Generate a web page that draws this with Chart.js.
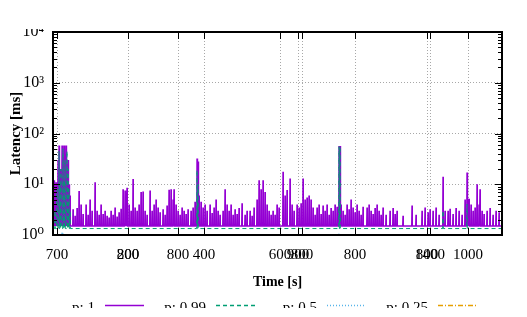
<!DOCTYPE html>
<html>
<head>
<meta charset="utf-8">
<script src="https://cdn.jsdelivr.net/npm/chart.js@4.4.1/dist/chart.umd.min.js"></script>
<style>
  html, body { margin: 0; padding: 0; background: #fff; }
</style>
</head>
<body>
<canvas id="latencyChart" width="527" height="317"></canvas>
<script>
// series look
const seriesLabels = ['p: 1', 'p: 0.99', 'p: 0.5', 'p: 0.25'];
const seriesColors = ['#9400d3', '#009e73', '#56b4e9', '#e69f00'];
const seriesDash = [[], [4, 3], [1, 2], [5, 2, 1, 2]];
const seriesWidth = [1.4, 1, 1, 1];

// baseline latency of each series [ms]
const baseLatency = [1.5, 1.34, 1.02, 0.8];

// spikes (time position, latency in ms)
const p1Time = [1, 2, 3, 4, 5, 6, 7, 8, 9, 10, 11, 12, 13, 14, 15, 16, 17,
  20, 22, 24, 26, 28, 30, 33, 35, 37, 39, 42, 44, 46, 48, 50, 52, 54, 56, 58, 60,
  62, 64, 66, 68, 70, 72, 73, 74, 76, 78, 80, 82, 84, 86, 88, 90, 92, 94, 97, 99,
  101, 103, 105, 107, 110, 112, 114, 116, 118, 120, 121, 123, 125, 127, 129, 131, 133, 135, 138, 140,
  142, 144, 145, 146, 148, 150, 152, 154, 157, 159, 161, 163, 165, 167, 170, 172, 174, 176, 178, 180,
  182, 184, 186, 189, 192, 194, 197, 199, 201, 204, 206, 208, 210, 212, 214, 216, 218, 220, 222, 224,
  226, 230, 232, 234, 237, 239, 241, 244, 246, 248, 250, 252, 254, 256, 258, 260, 262, 264, 266, 268,
  270, 272, 274, 276, 278, 280, 282, 284, 286, 287, 288, 290, 292, 294, 296, 298, 300, 302, 304, 306,
  308, 310, 314, 316, 318, 320, 322, 324, 326, 328, 330, 333, 337, 340, 342, 344, 350, 359, 363, 369,
  372, 375, 377, 380, 383, 386, 390, 392, 395, 397, 400, 403, 406, 409, 412, 414, 415, 416, 418, 420,
  422, 424, 426, 427, 429, 431, 434, 437, 440, 443, 446];
const p1Latency = [12, 8, 11, 5, 30, 58, 20, 8, 58, 15, 58, 40, 58, 25, 30, 10, 6,
  3.2, 2.4, 3.4, 7.4, 4, 2.6, 4, 2.5, 5, 3, 11, 3, 2.5, 4, 2.6, 3, 2.4, 2.2, 3, 2.5,
  3.5, 2.3, 2.8, 3.3, 8, 7.5, 5, 8.5, 4, 3, 12.7, 3.5, 3, 4, 7, 7.2, 3, 2.5, 7.5, 3,
  4, 5, 3.5, 2.8, 3.2, 2.5, 3.8, 7.8, 8, 5, 8, 4, 3, 2.5, 3.5, 3, 2.6, 3.2, 3, 3.5,
  4.5, 32, 28, 6, 4.5, 3.5, 4, 3, 4, 2.7, 3.5, 5, 3, 2.5, 3, 8, 4, 3, 4, 2.5,
  3.2, 2.6, 3.4, 4.2, 2.5, 3, 3, 2.4, 3.5, 5, 12, 8, 12, 7, 4, 3, 2.5, 3, 2.5, 4,
  3.5, 17.6, 6, 7.7, 13, 4, 3, 4, 3.5, 4.2, 13, 5, 5.5, 6, 5, 3.5, 2.5, 3.5, 4, 2.6,
  3.8, 3, 4, 2.5, 3.4, 3, 4, 3.6, 57, 57, 4, 3, 2.5, 4, 3.2, 5, 3.5, 2.8, 4, 3,
  2.5, 3.6, 3.5, 4, 3, 2.6, 3.4, 4, 3, 2.5, 3.5, 2.5, 3, 3.4, 2.6, 3, 2.4, 3.8, 2.5, 3,
  3.5, 2.8, 3.2, 3, 3.5, 2.5, 14, 3, 3, 3.3, 2.6, 3.4, 3, 2.5, 5, 17, 5, 5.2, 4, 3,
  3.5, 10, 4, 8, 3, 2.6, 3, 3.4, 2.5, 3, 2.8];

const p099Time = [2, 4, 6, 7, 8, 10, 11, 12, 14, 15, 16, 17, 144, 145, 286, 287, 390, 414];
const p099Latency = [3, 8, 45, 10, 20, 50, 12, 30, 45, 20, 8, 3, 19, 10, 55, 55, 3, 4];

const p05Time = [9, 10, 286];
const p05Latency = [1.15, 1.12, 1.1];

const p025Time = [];
const p025Latency = [];

// x axis: tick positions and their labels (several overlaid time axes)
const xTickPos = [4, 75, 75, 125, 151, 227, 245, 249, 302, 374, 377, 415];
const xTickLabels = ['700', '200', '800', '800', '400', '600', '900', '800', '800', '800', '1400', '1000'];
const yTickValues = [1, 10, 100, 1000, 10000];
const yTickLabels = ['10⁰', '10¹', '10²', '10³', '10⁴'];

const serif = '"Liberation Serif", "DejaVu Serif", serif';

function buildSeries(times, lats, base) {
    const pts = [{ x: 0, y: base }];
    times.forEach((t, i) => {
        pts.push({ x: t - 0.3, y: base }, { x: t, y: lats[i] }, { x: t + 0.3, y: base });
    });
    pts.push({ x: 449, y: base });
    return pts;
}

const allTimes = [p1Time, p099Time, p05Time, p025Time];
const allLats = [p1Latency, p099Latency, p05Latency, p025Latency];

const datasets = seriesLabels.map((label, i) => ({
    label: label,
    data: buildSeries(allTimes[i], allLats[i], baseLatency[i]),
    borderColor: seriesColors[i],
    borderDash: seriesDash[i],
    borderWidth: seriesWidth[i],
    pointRadius: 0,
    tension: 0,
    fill: false,
    order: 4 - i
}));

// frame, inward ticks, gnuplot-like legend
const gnuplotLook = {
    id: 'gnuplotLook',
    afterDraw(chart) {
        const { ctx, chartArea: a, scales: { x, y } } = chart;
        ctx.save();
        ctx.strokeStyle = '#000';
        ctx.lineWidth = 1;
        ctx.beginPath();
        for (let d = 0; d < 4; d++) {
            for (let m = 1; m < 10; m++) {
                const py = Math.round(y.getPixelForValue(m * Math.pow(10, d))) + 0.5;
                const len = m === 1 ? 7 : 4;
                ctx.moveTo(a.left, py); ctx.lineTo(a.left + len, py);
                ctx.moveTo(a.right, py); ctx.lineTo(a.right - len, py);
            }
        }
        xTickPos.forEach(v => {
            const px = Math.round(x.getPixelForValue(v)) + 0.5;
            ctx.moveTo(px, a.bottom); ctx.lineTo(px, a.bottom - 7);
            ctx.moveTo(px, a.top); ctx.lineTo(px, a.top + 7);
        });
        ctx.stroke();

        ctx.lineWidth = 2;
        ctx.strokeRect(a.left, a.top, a.right - a.left, a.bottom - a.top);

        // legend
        ctx.font = '15px ' + serif;
        ctx.fillStyle = '#000';
        ctx.textAlign = 'right';
        ctx.textBaseline = 'alphabetic';
        seriesLabels.forEach((label, i) => {
            const lineEnd = 144 + 111 * i;
            const lineStart = lineEnd - 39;
            ctx.fillText(label, lineStart - 10, 312);
            ctx.beginPath();
            ctx.strokeStyle = seriesColors[i];
            ctx.lineWidth = 1.5;
            ctx.setLineDash(seriesDash[i]);
            ctx.moveTo(lineStart, 305.5);
            ctx.lineTo(lineEnd, 305.5);
            ctx.stroke();
        });
        ctx.setLineDash([]);

        // the picture is cut above and below
        ctx.fillStyle = '#fff';
        ctx.fillRect(0, 0, chart.width, 29);
        ctx.fillRect(0, 308, chart.width, chart.height - 308);
        ctx.restore();
    }
};

new Chart(document.getElementById('latencyChart').getContext('2d'), {
    type: 'line',
    data: { datasets: datasets },
    options: {
        responsive: false,
        animation: false,
        layout: { padding: { left: 0, right: 25, top: 32, bottom: 0 } },
        plugins: {
            legend: { display: false },
            tooltip: { enabled: false }
        },
        scales: {
            x: {
                type: 'linear',
                min: 0,
                max: 449,
                afterBuildTicks: scale => { scale.ticks = xTickPos.map(v => ({ value: v })); },
                afterFit: scale => { scale.height = 82; },
                ticks: {
                    autoSkip: false,
                    maxRotation: 0,
                    minRotation: 0,
                    padding: 11,
                    color: '#000',
                    font: { family: serif, size: 15 },
                    callback: (value, index) => xTickLabels[index]
                },
                grid: { color: '#a8a8a8', drawTicks: false, lineWidth: 1 },
                border: { display: false, dash: [1, 2] },
                title: {
                    display: true,
                    text: 'Time [s]',
                    color: '#000',
                    font: { family: serif, size: 14, weight: 'bold' },
                    padding: { top: 0, bottom: 26 }
                }
            },
            y: {
                type: 'logarithmic',
                min: 1,
                max: 10000,
                afterBuildTicks: scale => { scale.ticks = yTickValues.map(v => ({ value: v })); },
                afterFit: scale => { scale.width = 53; },
                ticks: {
                    autoSkip: false,
                    padding: 9,
                    color: '#000',
                    font: { family: serif, size: 16 },
                    callback: (value, index) => yTickLabels[index]
                },
                grid: { color: '#a8a8a8', drawTicks: false, lineWidth: 1 },
                border: { display: false, dash: [1, 2] },
                title: {
                    display: true,
                    text: 'Latency [ms]',
                    color: '#000',
                    font: { family: serif, size: 15, weight: '600' },
                    padding: { top: 7, bottom: 0 }
                }
            }
        }
    },
    plugins: [gnuplotLook]
});
</script>
</body>
</html>
